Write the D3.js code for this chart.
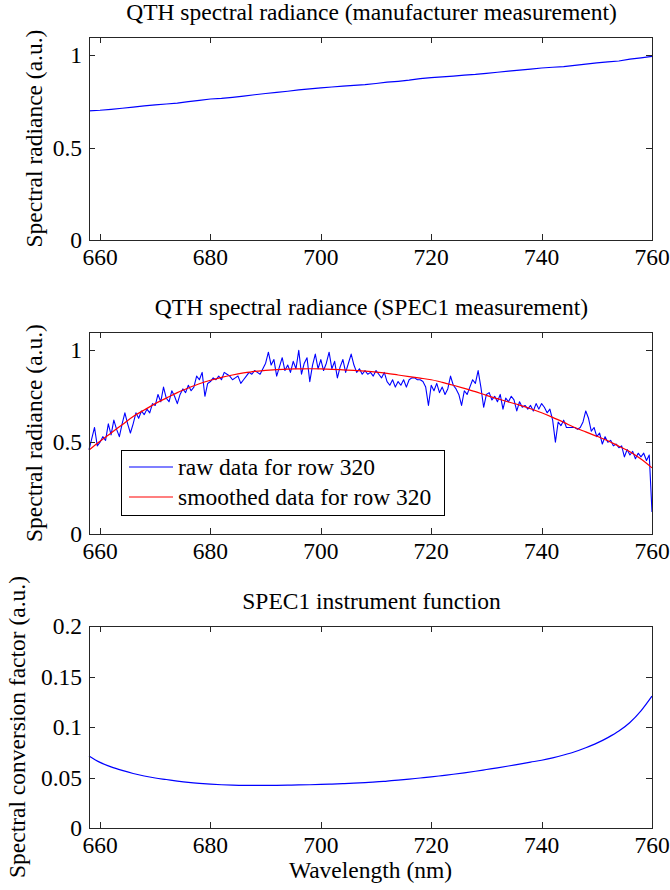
<!DOCTYPE html>
<html><head><meta charset="utf-8">
<script src="https://cdn.jsdelivr.net/npm/d3@7"></script>
<style>body{margin:0;background:#fff}svg{display:block}text{font-family:"Liberation Serif","Times New Roman",serif;fill:#000}</style>
</head><body>
<svg id="c" width="670" height="890"></svg>
<script>
// ---------- data ----------
const xTicks = [660, 680, 700, 720, 740, 760];
const yTicksRad = [0, 0.5, 1];
const yTicksRadLabels = ["0", "0.5", "1"];
const yTicksConv = [0, 0.05, 0.1, 0.15, 0.2];
const yTicksConvLabels = ["0", "0.05", "0.1", "0.15", "0.2"];

const titles = ["QTH spectral radiance (manufacturer measurement)", "QTH spectral radiance (SPEC1 measurement)", "SPEC1 instrument function"];
const yLabels = ["Spectral radiance (a.u.)", "Spectral radiance (a.u.)", "Spectral conversion factor (a.u.)"];
const xLabel = "Wavelength (nm)";
const legendLabels = ["raw data for row 320", "smoothed data for row 320"];

// wavelengths every 2 nm (658..760)
const wl2 = [658,660,662,664,666,668,670,672,674,676,678,680,682,684,686,688,690,692,694,696,698,700,702,704,706,708,710,712,714,716,718,720,722,724,726,728,730,732,734,736,738,740,742,744,746,748,750,752,754,756,758,760];

const manufacturer = [0.700,0.703,0.708,0.714,0.720,0.727,0.732,0.737,0.742,0.750,0.757,0.764,0.767,0.773,0.780,0.787,0.794,0.800,0.806,0.813,0.819,0.824,0.829,0.834,0.838,0.842,0.848,0.855,0.860,0.866,0.874,0.880,0.884,0.888,0.893,0.897,0.903,0.909,0.915,0.920,0.926,0.932,0.936,0.940,0.946,0.953,0.960,0.965,0.970,0.980,0.987,0.995];

const smoothed = [0.457,0.505,0.550,0.595,0.640,0.675,0.710,0.740,0.770,0.795,0.818,0.837,0.853,0.866,0.877,0.886,0.891,0.895,0.898,0.899,0.900,0.899,0.897,0.894,0.891,0.887,0.882,0.875,0.866,0.857,0.849,0.840,0.826,0.810,0.793,0.775,0.755,0.737,0.719,0.702,0.682,0.660,0.635,0.608,0.580,0.556,0.532,0.508,0.478,0.448,0.408,0.360];

const conversion = [0.0714,0.0650,0.0605,0.0570,0.0540,0.0515,0.0495,0.0480,0.0465,0.0452,0.0442,0.0434,0.0428,0.0424,0.0422,0.0422,0.0422,0.0423,0.0424,0.0426,0.0428,0.0431,0.0435,0.0439,0.0444,0.0450,0.0456,0.0465,0.0474,0.0484,0.0495,0.0506,0.0519,0.0532,0.0546,0.0562,0.0579,0.0596,0.0614,0.0633,0.0652,0.0671,0.0695,0.0723,0.0755,0.0795,0.0840,0.0895,0.0960,0.1045,0.1160,0.1306];

// raw data: wavelengths every 0.5 nm from 658.0 to 760.0
const rawStart = 658.0, rawStep = 0.5;
const raw = [
0.46,0.52,0.58,0.48,0.50,0.53,0.51,0.60,0.54,0.62,0.57,0.53,0.60,0.66,0.60,0.55,0.60,0.66,0.63,0.67,
0.65,0.68,0.66,0.71,0.70,0.76,0.72,0.80,0.74,0.72,0.78,0.75,0.71,0.76,0.79,0.77,0.81,0.78,0.80,0.86,
0.84,0.88,0.75,0.82,0.83,0.85,0.84,0.86,0.84,0.88,0.87,0.86,0.84,0.85,0.86,0.82,0.84,0.86,0.88,0.87,
0.89,0.88,0.87,0.90,0.93,0.99,0.92,0.95,0.86,0.91,0.96,0.89,0.92,0.88,0.94,0.90,1.00,0.87,0.93,0.96,
0.83,0.92,0.98,0.90,0.95,0.89,0.93,0.99,0.90,0.94,0.85,0.91,0.95,0.88,0.93,0.98,0.92,0.88,0.90,0.87,
0.89,0.87,0.88,0.86,0.89,0.87,0.85,0.88,0.83,0.81,0.84,0.80,0.83,0.81,0.84,0.80,0.84,0.85,0.85,0.84,
0.84,0.83,0.80,0.70,0.81,0.78,0.82,0.77,0.80,0.76,0.79,0.86,0.81,0.79,0.76,0.70,0.78,0.76,0.80,0.84,
0.82,0.89,0.80,0.69,0.76,0.77,0.73,0.75,0.72,0.76,0.68,0.74,0.72,0.75,0.73,0.67,0.72,0.69,0.70,0.68,
0.70,0.67,0.71,0.68,0.71,0.69,0.66,0.68,0.62,0.50,0.61,0.59,0.62,0.58,0.58,0.58,0.58,0.57,0.58,0.61,
0.67,0.63,0.56,0.58,0.53,0.55,0.49,0.53,0.50,0.51,0.48,0.49,0.47,0.48,0.42,0.46,0.43,0.45,0.41,0.44,
0.42,0.44,0.40,0.43,0.12];

// ---------- layout ----------
const svg = d3.select("#c");
const L = 89, R = 652;
const panels = [
  {top: 37, bottom: 240, yDomain: [0, 1.1], yTicks: yTicksRad, yTickLabels: yTicksRadLabels, ylabX: 42},
  {top: 332, bottom: 534, yDomain: [0, 1.1], yTicks: yTicksRad, yTickLabels: yTicksRadLabels, ylabX: 42},
  {top: 626, bottom: 828, yDomain: [0, 0.2], yTicks: yTicksConv, yTickLabels: yTicksConvLabels, ylabX: 25}
];
const FS = 23.5, TICK = 5.6;
const axisColor = "#262626";

panels.forEach((p, i) => {
  p.x = d3.scaleLinear().domain([658, 760]).range([L, R]);
  p.y = d3.scaleLinear().domain(p.yDomain).range([p.bottom, p.top]);
  const g = svg.append("g");
  g.append("text").attr("x", (L + R) / 2 + 1).attr("y", p.top - 17).attr("text-anchor", "middle")
    .attr("font-size", FS).text(titles[i]);
  g.append("text").attr("transform", `translate(${p.ylabX},${(p.top + p.bottom) / 2}) rotate(-90)`)
    .attr("text-anchor", "middle").attr("font-size", FS).text(yLabels[i]);
  p.g = g;
});

function drawFrame(p) {
  const g = p.g;
  const ax = g.append("g").attr("stroke", axisColor).attr("stroke-width", 1).attr("shape-rendering", "crispEdges");
  xTicks.forEach(t => {
    const x = Math.round(p.x(t)) + 0.5;
    ax.append("line").attr("x1", x).attr("x2", x).attr("y1", p.bottom).attr("y2", p.bottom - TICK);
    ax.append("line").attr("x1", x).attr("x2", x).attr("y1", p.top).attr("y2", p.top + TICK);
    g.append("text").attr("x", p.x(t)).attr("y", p.bottom + 25).attr("text-anchor", "middle")
      .attr("font-size", FS).text(t);
  });
  p.yTicks.forEach((t, k) => {
    const y = Math.round(p.y(t)) + 0.5;
    ax.append("line").attr("x1", L).attr("x2", L + TICK).attr("y1", y).attr("y2", y);
    ax.append("line").attr("x1", R).attr("x2", R - TICK).attr("y1", y).attr("y2", y);
    g.append("text").attr("x", L - 7).attr("y", p.y(t) + 8).attr("text-anchor", "end")
      .attr("font-size", FS).text(p.yTickLabels[k]);
  });
  ax.append("rect").attr("x", L + 0.5).attr("y", p.top + 0.5).attr("width", R - L).attr("height", p.bottom - p.top)
    .attr("fill", "none");
}

const line = (p) => d3.line().x(d => p.x(d[0])).y(d => p.y(d[1]));

// panel 1
{
  const p = panels[0];
  p.g.append("path").datum(wl2.map((w, k) => [w, manufacturer[k]])).attr("d", line(p))
    .attr("fill", "none").attr("stroke", "#0000ff").attr("stroke-width", 1.2);
  drawFrame(p);
}
// panel 2
{
  const p = panels[1];
  p.g.append("path").datum(raw.map((v, k) => [rawStart + k * rawStep, v])).attr("d", line(p))
    .attr("fill", "none").attr("stroke", "#0000ff").attr("stroke-width", 1.1).attr("stroke-linejoin", "round");
  p.g.append("path").datum(wl2.map((w, k) => [w, smoothed[k]])).attr("d", line(p).curve(d3.curveMonotoneX))
    .attr("fill", "none").attr("stroke", "#ff0000").attr("stroke-width", 1.2);
  drawFrame(p);
  const lg = p.g.append("g");
  lg.append("rect").attr("x", 121.5).attr("y", 450.5).attr("width", 323).attr("height", 65)
    .attr("fill", "#fff").attr("stroke", "#000").attr("stroke-width", 1);
  const cols = ["#0000ff", "#ff0000"];
  legendLabels.forEach((lab, k) => {
    const yy = 467 + k * 30;
    lg.append("line").attr("x1", 129).attr("x2", 173).attr("y1", yy).attr("y2", yy)
      .attr("stroke", cols[k]).attr("stroke-width", 1.2);
    lg.append("text").attr("x", 178).attr("y", yy + 8).attr("font-size", FS).text(lab);
  });
}
// panel 3
{
  const p = panels[2];
  p.g.append("path").datum(wl2.map((w, k) => [w, conversion[k]])).attr("d", line(p).curve(d3.curveMonotoneX))
    .attr("fill", "none").attr("stroke", "#0000ff").attr("stroke-width", 1.2);
  drawFrame(p);
  p.g.append("text").attr("x", (L + R) / 2).attr("y", 878).attr("text-anchor", "middle")
    .attr("font-size", FS).text(xLabel);
}
</script>
</body></html>
